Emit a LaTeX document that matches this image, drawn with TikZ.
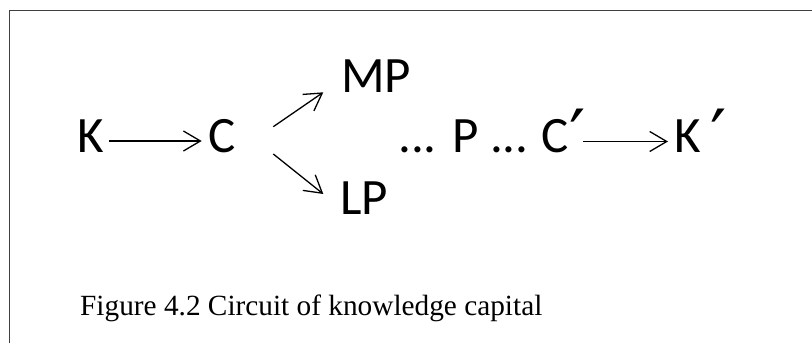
\documentclass[tikz,border=0pt]{standalone}
\usepackage{fontspec}
\setmainfont{Liberation Serif}
\newfontfamily\diagfont{Carlito}
\newfontfamily\primefont{DejaVu Sans}
\newcommand{\pr}{\raisebox{-9bp}{\primefont\fontsize{72bp}{72bp}\selectfont\char"2032}\kern-8bp}
\usetikzlibrary{arrows.meta}
\begin{document}
\begin{tikzpicture}[x=1bp,y=-1bp,
  term/.style={inner sep=0pt,anchor=base west,font=\diagfont\fontsize{51bp}{60bp}\selectfont},
  flow/.style={line width=1.3bp,-{Straight Barb[length=17bp,width=20bp,line width=1.3bp]}},
  caption/.style={inner sep=0pt,anchor=base west,font=\fontsize{29.3bp}{35bp}\selectfont},
  frame/.style={line width=1bp,draw=black!75}]
\useasboundingbox (0,0) rectangle (812,343);
% open frame: only the top and left edges fall inside the page
\draw[frame] (9,343) -- (9,10) -- (812,10);

% terms of the circuit
\node[term] (K)  at (77,152.5)  {K};
\node[term] (C)  at (208,152.5) {C};
\node[term] (MP) at (341,92.3)  {MP};
\node[term] (LP) at (340,214)   {LP};
\node[term] (PC) at (398,152.5) {... P ...\kern-2bp{} C\pr};
\node[term] (K2) at (674,152.5) {K\kern10bp\pr};

% connectors
\coordinate (a1s) at (109,141);  \coordinate (a1e) at (201.7,141);
\coordinate (ups) at (273.3,126.7); \coordinate (upe) at (323.3,92.3);
\coordinate (dns) at (273.3,154); \coordinate (dne) at (323.3,194);
\coordinate (a2s) at (583,141.5); \coordinate (a2e) at (668,141.5);
\draw[flow] (a1s) -- (a1e);
\draw[flow] (ups) -- (upe);
\draw[flow] (dns) -- (dne);
\draw[flow] (a2s) -- (a2e);

\node[caption] (cap) at (80,315) {Figure 4.2 Circuit of knowledge capital};
\end{tikzpicture}
\end{document}
